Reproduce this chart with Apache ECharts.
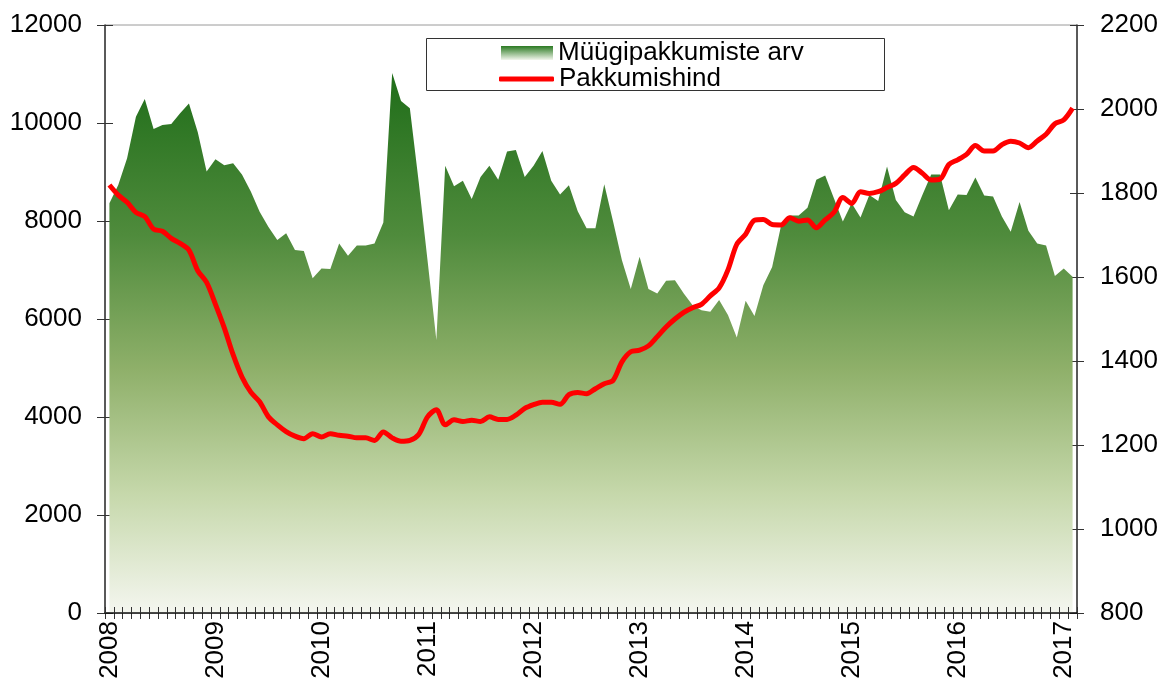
<!DOCTYPE html>
<html>
<head>
<meta charset="utf-8">
<script src="https://cdn.jsdelivr.net/npm/echarts@6/dist/echarts.min.js"></script>
<style>
html,body{margin:0;padding:0;background:#fff;}
#c{width:1164px;height:681px;}
</style>
</head>
<body>
<div id="c"></div>
<script>
const yearLabels = ['2008','2009','2010','2011','2012','2013','2014','2015','2016','2017'];

const listings = [
  8360, 8734, 9280, 10130, 10490, 9880, 9960, 9980, 10200, 10400, 9810, 9010,
  9260, 9140, 9180, 8950, 8600, 8190, 7880, 7610, 7750, 7410, 7390, 6830,
  7030, 7020, 7540, 7290, 7500, 7500, 7540, 7970, 11020, 10450, 10300, 8800,
  7200, 5570, 9130, 8710, 8820, 8450, 8900, 9130, 8840, 9420, 9450, 8900,
  9130, 9430, 8820, 8540, 8730, 8200, 7850, 7850, 8750, 7990, 7200, 6610,
  7270, 6610, 6520, 6780, 6790, 6520, 6280, 6180, 6150, 6390, 6080, 5620,
  6370, 6060, 6690, 7060, 7900, 8110, 8110, 8270, 8840, 8930, 8460, 7990,
  8360, 8070, 8530, 8410, 9110, 8430, 8180, 8090, 8530, 8950, 8950, 8220,
  8540, 8530, 8890, 8520, 8500, 8090, 7780, 8390, 7800, 7540, 7500, 6880,
  7030, 6860
];

const price = [
  1819, 1795, 1778, 1754, 1744, 1714, 1709, 1692, 1680, 1664, 1615, 1587,
  1535, 1479, 1415, 1362, 1326, 1303, 1267, 1248, 1232, 1221, 1215, 1227,
  1219, 1227, 1223, 1221, 1217, 1217, 1211, 1231, 1217, 1209, 1211, 1225,
  1267, 1284, 1248, 1260, 1256, 1259, 1256, 1267, 1261, 1261, 1271, 1287,
  1296, 1302, 1302, 1297, 1320, 1325, 1322, 1334, 1346, 1354, 1398, 1422,
  1426, 1436, 1458, 1481, 1500, 1516, 1527, 1535, 1555, 1574, 1617, 1678,
  1702, 1735, 1737, 1725, 1724, 1741, 1733, 1736, 1717, 1736, 1754, 1789,
  1775, 1803, 1799, 1803, 1813, 1823, 1843, 1861, 1847, 1831, 1833, 1868,
  1879, 1892, 1913, 1900, 1900, 1915, 1923, 1919, 1908, 1924, 1940, 1965,
  1974, 2002
];

const seriesNames = ['Müügipakkumiste arv', 'Pakkumishind'];

const categories = [];
yearLabels.forEach(function (y) {
  for (let m = 1; m <= 12; m++) {
    if (categories.length < listings.length) categories.push(y + '-' + (m < 10 ? '0' + m : m));
  }
});

const FONT = "'Liberation Sans', Arial, sans-serif";
const plain = function (v) { return String(v); };
const chart = echarts.init(document.getElementById('c'), null, {renderer: 'canvas'});

const areaGradient = function () {
  return new echarts.graphic.LinearGradient(0, 0, 0, 1, [
    {offset: 0, color: '#1f6d19'},
    {offset: 0.3, color: '#4f8b3c'},
    {offset: 0.55, color: '#8fb06a'},
    {offset: 0.78, color: '#c6d8ab'},
    {offset: 1, color: '#f4f6ef'}
  ]);
};

chart.setOption({
  animation: false,
  backgroundColor: '#fff',
  grid: {left: 105, right: 87, top: 25, bottom: 68, containLabel: false, outerBoundsMode: 'none',
         show: true, borderColor: '#9a9a9a', borderWidth: 1, backgroundColor: '#fff'},
  legend: [{
    orient: 'vertical',
    left: 501, top: 40,
    padding: 0,
    itemWidth: 52, itemHeight: 14,
    textStyle: {fontFamily: FONT, fontSize: 26, color: '#000', lineHeight: 26},
    data: [{name: seriesNames[0], icon: 'rect', itemStyle: {color: new echarts.graphic.LinearGradient(0, 0, 0, 1, [
      {offset: 0, color: '#2b7a22'},
      {offset: 1, color: '#f2f6ec'}
    ])}}]
  }, {
    orient: 'vertical',
    left: 499, top: 66,
    padding: 0,
    itemWidth: 55, itemHeight: 5,
    textStyle: {fontFamily: FONT, fontSize: 26, color: '#000', lineHeight: 26},
    data: [{name: seriesNames[1], icon: 'roundRect'}]
  }],
  graphic: [{
    type: 'rect',
    shape: {x: 426.5, y: 38.5, width: 458, height: 52},
    style: {fill: 'none', stroke: '#333', lineWidth: 1},
    z: 100
  }],
  xAxis: [{
    type: 'category',
    data: categories,
    boundaryGap: true,
    axisLine: {show: true, lineStyle: {color: '#111', width: 1.5}},
    axisTick: {show: true, inside: true, length: 6, interval: 0, lineStyle: {color: '#333'}},
    axisLabel: {show: false},
    splitLine: {show: false},
    z: 10
  }, {
    type: 'category',
    data: categories,
    boundaryGap: true,
    position: 'bottom',
    axisLine: {show: false},
    axisTick: {show: true, inside: false, length: 6, interval: 0, lineStyle: {color: '#333'}},
    axisLabel: {
      show: true, rotate: 90, margin: 8,
      interval: function (i) { return i % 12 === 0; },
      formatter: function (v) { return v.slice(0, 4); },
      fontFamily: FONT, fontSize: 26, color: '#000'
    },
    splitLine: {show: false}
  }],
  yAxis: [{
    type: 'value', position: 'left', min: 0, max: 12000, interval: 2000,
    axisLine: {show: true, lineStyle: {color: '#333', width: 1.5}},
    axisTick: {show: true, inside: false, length: 8, lineStyle: {color: '#333'}},
    axisLabel: {margin: 23, fontFamily: FONT, fontSize: 26, color: '#000', formatter: plain},
    splitLine: {show: false}
  }, {
    type: 'value', position: 'right', min: 800, max: 2200, interval: 200,
    axisLine: {show: true, lineStyle: {color: '#333', width: 1.5}},
    axisTick: {show: true, inside: false, length: 7, lineStyle: {color: '#333'}},
    axisLabel: {margin: 23, fontFamily: FONT, fontSize: 26, color: '#000', formatter: plain},
    splitLine: {show: false}
  }, {
    type: 'value', position: 'left', min: 0, max: 12000, interval: 2000,
    axisLine: {show: false},
    axisTick: {show: true, inside: true, length: 8, lineStyle: {color: '#333'}},
    axisLabel: {show: false},
    splitLine: {show: false}
  }, {
    type: 'value', position: 'right', min: 800, max: 2200, interval: 200,
    axisLine: {show: false},
    axisTick: {show: true, inside: true, length: 7, lineStyle: {color: '#333'}},
    axisLabel: {show: false},
    splitLine: {show: false}
  }],
  series: [{
    name: seriesNames[0],
    type: 'line',
    xAxisIndex: 0, yAxisIndex: 0,
    data: listings,
    symbol: 'none',
    lineStyle: {width: 0, color: '#2a7a22'},
    itemStyle: {color: '#2a7a22'},
    areaStyle: {opacity: 1, color: areaGradient()},
    z: 2
  }, {
    name: seriesNames[1],
    type: 'line',
    xAxisIndex: 0, yAxisIndex: 1,
    data: price,
    symbol: 'none',
    smooth: 0.3,
    lineStyle: {width: 5, color: '#ff0000'},
    itemStyle: {color: '#ff0000'},
    z: 5
  }]
});
</script>
</body>
</html>
